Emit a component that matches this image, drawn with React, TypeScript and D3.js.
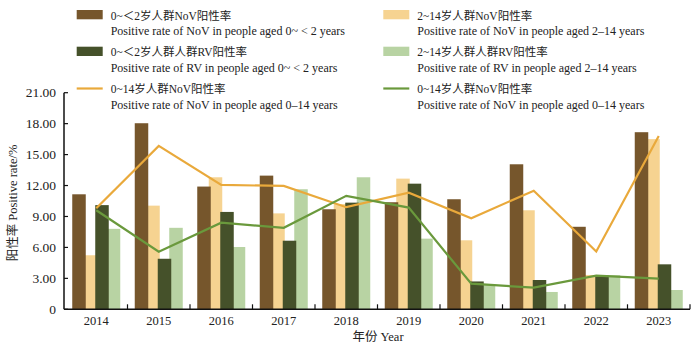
import React from "react";
import * as d3 from "d3";

const years = ["2014", "2015", "2016", "2017", "2018", "2019", "2020", "2021", "2022", "2023"];
const novUnder2 = [11.15, 18.04, 11.9, 12.96, 9.7, 10.38, 10.67, 14.06, 8.0, 17.17];
const nov2to14 = [5.24, 10.05, 12.8, 9.3, 10.2, 12.67, 6.69, 9.6, 3.33, 16.5];
const rvUnder2 = [10.1, 4.9, 9.44, 6.65, 10.34, 12.18, 2.7, 2.84, 3.26, 4.36];
const rv2to14 = [7.8, 7.9, 6.04, 11.64, 12.8, 6.85, 2.45, 1.68, 3.3, 1.87];
const novAll = [9.8, 15.84, 12.06, 11.96, 9.9, 11.3, 8.83, 11.5, 5.6, 16.8];
const rvAll = [9.6, 5.59, 8.4, 7.9, 11.0, 9.86, 2.48, 2.1, 3.26, 2.97];
const yTicks = [0, 3, 6, 9, 12, 15, 18, 21];

const barSeries = [
  { values: nov2to14, color: "#F6D391", idx: 1 },
  { values: novUnder2, color: "#76562C", idx: 0 },
  { values: rv2to14, color: "#B8D3A3", idx: 3 },
  { values: rvUnder2, color: "#45512A", idx: 2 },
];

const legendItems = [
  { zh: "0~＜2岁人群NoV阳性率", en: "Positive rate of NoV in people aged 0~ < 2 years", color: "#76562C", type: "bar", col: 0, row: 0 },
  { zh: "2~14岁人群NoV阳性率", en: "Positive rate of NoV in people aged 2–14 years", color: "#F6D391", type: "bar", col: 1, row: 0 },
  { zh: "0~＜2岁人群人群RV阳性率", en: "Positive rate of RV in people aged 0~ < 2 years", color: "#45512A", type: "bar", col: 0, row: 1 },
  { zh: "2~14岁人群人群RV阳性率", en: "Positive rate of RV in people aged 2–14 years", color: "#B8D3A3", type: "bar", col: 1, row: 1 },
  { zh: "0~14岁人群NoV阳性率", en: "Positive rate of NoV in people aged 0–14 years", color: "#E9A93B", type: "line", col: 0, row: 2 },
  { zh: "0~14岁人群NoV阳性率", en: "Positive rate of NoV in people aged 0–14 years", color: "#6A993C", type: "line", col: 1, row: 2 },
];

const FONT = "'Liberation Serif', 'DejaVu Serif', 'Noto Sans CJK SC', serif";

export default function App() {
  const W = 700, H = 347;
  const left = 64, right = 690, top = 92.7, bottom = 309.3;
  const x = d3.scaleBand<string>().domain(years).range([left + 1, right]);
  const y = d3.scaleLinear().domain([0, 21]).range([bottom, top]);
  const step = 11.5, bw = 13.5;
  const bandC = (yr: string) => (x(yr) as number) + x.bandwidth() / 2;
  const line = d3.line<number>().x((_, i) => bandC(years[i])).y((d) => y(d));

  const colX = [76.7, 383.3];
  const rowY = [10, 46.7, 83.5];

  return (
    <svg width={W} height={H} style={{ position: "absolute", left: 0, top: 0, background: "#fff" }} fontFamily={FONT}>
      {/* bars */}
      {barSeries.map((s) =>
        s.values.map((v, i) => {
          const cx = bandC(years[i]) + (s.idx - 1.5) * step;
          return (
            <rect key={s.idx + "-" + i} x={cx - bw / 2} y={y(v)} width={bw} height={y(0) - y(v)} fill={s.color} />
          );
        })
      )}
      {/* lines */}
      <path d={line(novAll) || ""} fill="none" stroke="#E9A93B" strokeWidth={2.2} />
      <path d={line(rvAll) || ""} fill="none" stroke="#6A993C" strokeWidth={2.2} />
      {/* axes */}
      <line x1={left} x2={left} y1={top} y2={bottom} stroke="#111" strokeWidth={1.5} />
      <line x1={left} x2={right} y1={bottom} y2={bottom} stroke="#111" strokeWidth={1.5} />
      {yTicks.map((t) => (
        <g key={t}>
          <line x1={left} x2={left + 4} y1={y(t)} y2={y(t)} stroke="#111" strokeWidth={1.2} />
          <text x={56} y={y(t) + 4.5} textAnchor="end" fontSize={13.5} fill="#222">
            {t === 0 ? "0" : t.toFixed(2)}
          </text>
        </g>
      ))}
      {years.map((yr) => (
        <g key={yr}>
          <line x1={(x(yr) as number) + x.bandwidth()} x2={(x(yr) as number) + x.bandwidth()} y1={bottom} y2={bottom - 5} stroke="#111" strokeWidth={1.2} />
          <text x={bandC(yr)} y={325} textAnchor="middle" fontSize={12.5} fill="#222">{yr}</text>
        </g>
      ))}
      <text x={378} y={341} textAnchor="middle" fontSize={12.5} fill="#222">年份 Year</text>
      <text transform={`translate(17,203) rotate(-90)`} textAnchor="middle" fontSize={12.5} fill="#222">阳性率 Positive rate/%</text>
      {/* legend */}
      {legendItems.map((it, k) => {
        const lx = colX[it.col];
        const ly = rowY[it.row];
        return (
          <g key={k}>
            {it.type === "bar" ? (
              <rect x={lx} y={ly} width={26} height={9.3} fill={it.color} />
            ) : (
              <line x1={lx} x2={lx + 26} y1={ly + 5} y2={ly + 5} stroke={it.color} strokeWidth={2.2} />
            )}
            <text x={lx + 34} y={ly + 9.5} fontSize={11.5} fill="#222">{it.zh}</text>
            <text x={lx + 34} y={ly + 25} fontSize={12} fill="#222">{it.en}</text>
          </g>
        );
      })}
    </svg>
  );
}
